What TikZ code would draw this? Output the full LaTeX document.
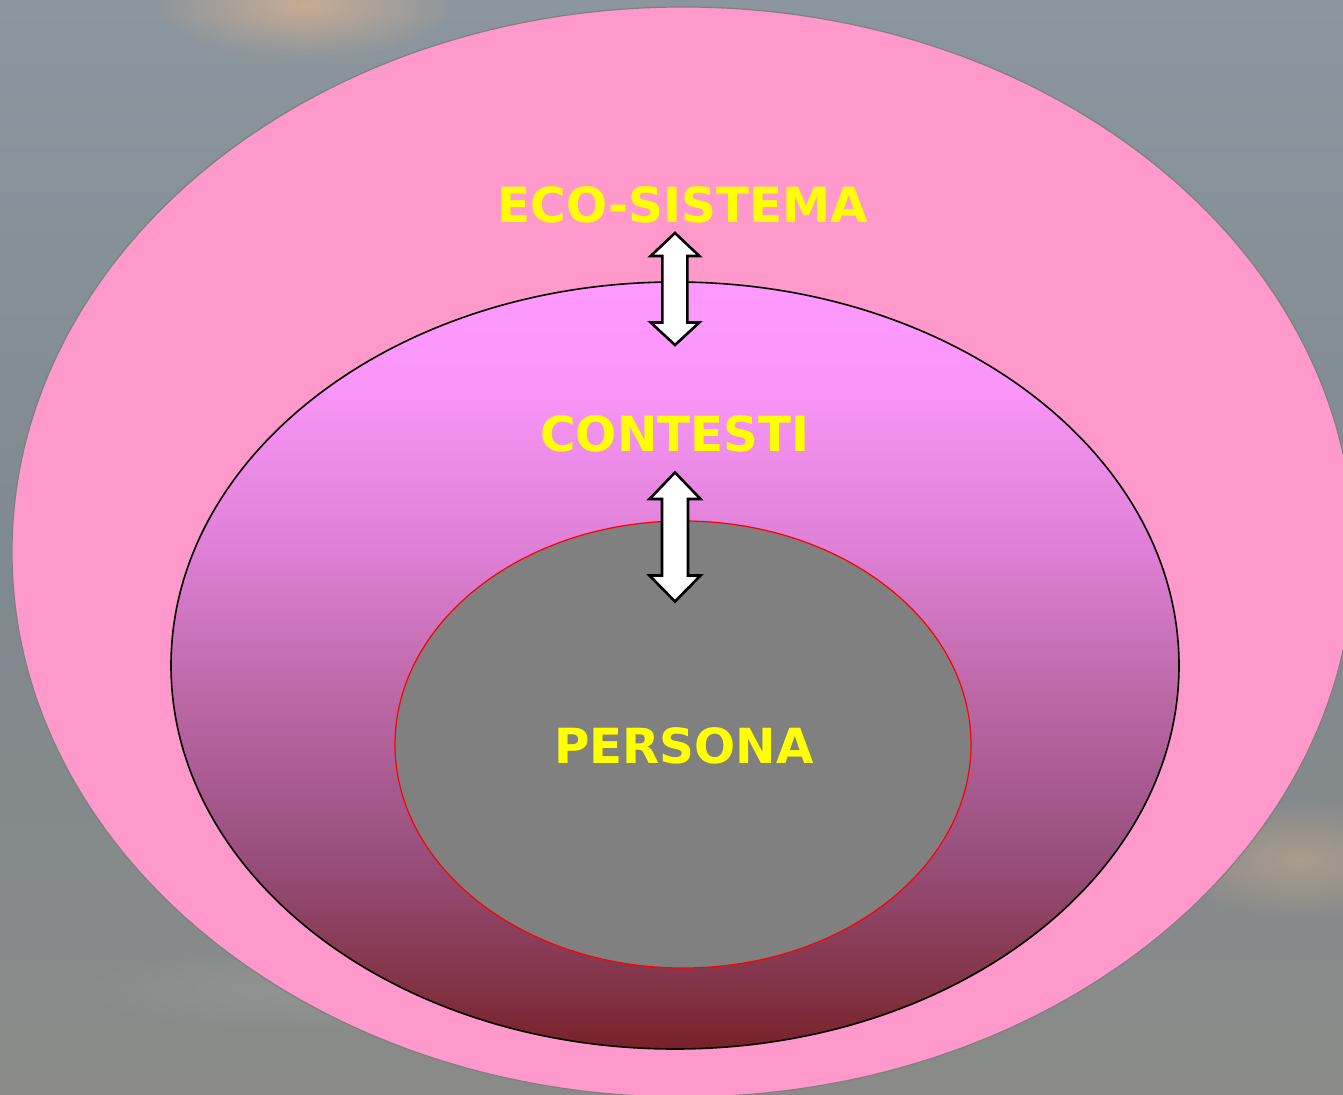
\documentclass[tikz,border=0pt]{standalone}
\usepackage{fontspec}
\setmainfont{DejaVu Sans}
\usetikzlibrary{shapes.geometric,fadings}
\definecolor{skytop}{HTML}{8C969E}
\definecolor{skymid}{HTML}{7F898F}
\definecolor{skybot}{HTML}{8A8B88}
\definecolor{peach}{HTML}{E8B890}
\definecolor{ecopink}{HTML}{FF99CC}
\definecolor{ctA}{HTML}{FF99FF}
\definecolor{ctB}{HTML}{FA96F8}
\definecolor{ctC}{HTML}{DE80D6}
\definecolor{ctD}{HTML}{BB67A5}
\definecolor{ctE}{HTML}{99507F}
\definecolor{ctF}{HTML}{80303F}
\definecolor{ctG}{HTML}{78202A}
\definecolor{persgray}{HTML}{808080}
\definecolor{txtyellow}{HTML}{FFFF00}
\pgfdeclareverticalshading{contshade}{100bp}{
  color(0bp)=(ctG); color(25bp)=(ctG); color(28.2bp)=(ctF);
  color(38bp)=(ctE); color(47.75bp)=(ctD); color(57.5bp)=(ctC);
  color(68.6bp)=(ctB); color(75bp)=(ctA); color(100bp)=(ctA)}
\pgfdeclareverticalshading{skyshade}{100bp}{
  color(0bp)=(skybot); color(25bp)=(skybot); color(50bp)=(skymid);
  color(75bp)=(skytop); color(100bp)=(skytop)}
\tikzfading[name=glowfade, inner color=transparent!35, outer color=transparent!100]
\tikzset{
  ring/.style={ellipse, inner sep=0pt, outer sep=0pt},
  label/.style={font=\bfseries\fontsize{24.2}{28}\selectfont, text=txtyellow, anchor=base, inner sep=0pt},
  blockarrow/.style={draw=black, fill=white, line width=1.3pt, line join=miter}
}
\begin{document}
\begin{tikzpicture}[x=0.5pt, y=-0.5pt]
\useasboundingbox (0,0) rectangle (1343,1095);
\begin{scope}
\clip (0,0) rectangle (1343,1095);
% sky background
\shade[shading=skyshade] (0,0) rectangle (1343,1095);
\fill[peach, path fading=glowfade] (305,5) ellipse [x radius=150, y radius=55];
\fill[peach, path fading=glowfade, opacity=0.6] (1300,860) ellipse [x radius=140, y radius=60];
\fill[white, path fading=glowfade, opacity=0.12] (320,990) ellipse [x radius=260, y radius=45];
% ellipses
\node[ring, draw=persgray, line width=0.6pt, fill=ecopink,
      minimum width=671pt, minimum height=545pt] (eco) at (683,552) {};
\end{scope}
\node[ring, draw=black, line width=0.8pt, shading=contshade,
      minimum width=504pt, minimum height=383.5pt] (cont) at (675,665.5) {};
\node[ring, draw=red, line width=0.6pt, fill=persgray,
      minimum width=288pt, minimum height=223.5pt] (pers) at (683,744.5) {};
% labels
\node[label] (ecolbl) at (683,223) {ECO-SISTEMA};
\node[label] (contlbl) at (675,452) {CONTESTI};
\node[label] (perslbl) at (684,763) {PERSONA};
% double block arrows
\draw[blockarrow] (675,233) -- (699.3,256) -- (687.3,256) -- (687.3,322.5)
  -- (699.3,322.5) -- (675,345) -- (650.7,322.5) -- (662.3,322.5)
  -- (662.3,256) -- (650.7,256) -- cycle;
\draw[blockarrow] (675,472.5) -- (700.5,499) -- (688,499) -- (688,575.5)
  -- (700.5,575.5) -- (675,601.5) -- (649.5,575.5) -- (662,575.5)
  -- (662,499) -- (649.5,499) -- cycle;
\end{tikzpicture}
\end{document}
